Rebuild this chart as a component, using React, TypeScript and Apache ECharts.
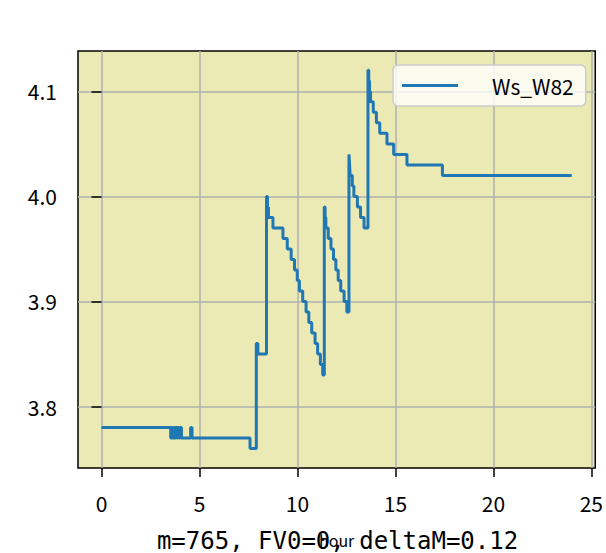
import React, { useEffect, useRef } from "react";
import * as echarts from "echarts";

const seriesName = "Ws_W82";
const hours = [
  0, 3.53, 3.57, 3.62, 3.67, 3.72, 3.78, 3.84, 3.9, 3.96, 4.02, 4.08, 4.55, 4.62,
  7.58, 7.9, 7.98, 8.42, 8.47, 8.52, 8.75, 9.26, 9.48, 9.68, 9.85, 9.99, 10.1,
  10.27, 10.44, 10.58, 10.73, 10.9, 11.03, 11.17, 11.29, 11.37, 11.41, 11.45,
  11.57, 11.71, 11.84, 11.96, 12.08, 12.21, 12.38, 12.52, 12.63, 12.66, 12.69,
  12.8, 12.88, 13.06, 13.22, 13.4, 13.6, 13.64, 13.68, 13.73, 13.87, 14.03, 14.2,
  14.57, 14.91, 15.59, 17.4, 24,
];
const values = [
  3.78, 3.77, 3.78, 3.77, 3.78, 3.77, 3.78, 3.77, 3.78, 3.77, 3.78, 3.77, 3.78, 3.77,
  3.76, 3.86, 3.85, 4.0, 3.99, 3.98, 3.97, 3.96, 3.95, 3.94, 3.93, 3.92, 3.91,
  3.9, 3.89, 3.88, 3.87, 3.86, 3.85, 3.84, 3.83, 3.99, 3.98, 3.97,
  3.96, 3.95, 3.94, 3.93, 3.92, 3.91, 3.9, 3.89, 4.04, 4.03, 4.02,
  4.01, 4.0, 3.99, 3.98, 3.97, 4.12, 4.11, 4.1, 4.09, 4.08, 4.07, 4.06,
  4.05, 4.04, 4.03, 4.02, 4.02,
];
const xTicks = [0, 5, 10, 15, 20, 25];
const yTicks = [3.8, 3.9, 4.0, 4.1];
const titleText = "m=765, FV0=0, deltaM=0.12";
const xName = "hour";

const FONT = "'Noto Sans CJK SC', 'DejaVu Sans', sans-serif";
const MONO = "'DejaVu Sans Mono', 'Liberation Mono', monospace";

export default function App() {
  const ref = useRef<HTMLDivElement>(null);
  useEffect(() => {
    if (!ref.current) return;
    const chart = echarts.init(ref.current, null, { renderer: "svg" });
    const data = hours.map((h, i) => [h, values[i]]);
    chart.setOption({
      animation: false,
      backgroundColor: "#ffffff",
      textStyle: { fontFamily: FONT },
      grid: {
        left: 78,
        right: 9,
        top: 51,
        bottom: 81,
        show: true,
        backgroundColor: "#EBEAB5",
        borderColor: "#000000",
        borderWidth: 1.5,
      },
      legend: {
        show: true,
        left: 393,
        top: 65,
        orient: "horizontal",
        padding: [10, 12, 10, 9],
        itemWidth: 56,
        itemHeight: 14,
        backgroundColor: "rgba(255,255,255,0.8)",
        borderColor: "#cccccc",
        borderWidth: 1.5,
        borderRadius: 5,
        textStyle: {
          fontFamily: FONT,
          fontSize: 21,
          color: "#000000",
          padding: [0, 0, 0, 29],
        },
        data: [{ name: seriesName, icon: "path://M0,0L56,0L56,3L0,3Z" }],
      },
      xAxis: {
        type: "value",
        min: -1.2,
        max: 25.2,
        name: xName,
        nameLocation: "middle",
        nameGap: 64,
        nameTextStyle: { fontFamily: FONT, fontSize: 16, color: "#000" },
        axisLine: { show: false },
        axisTick: {
          show: true,
          customValues: xTicks,
          length: 9,
          lineStyle: { color: "#000", width: 1.5 },
        },
        axisLabel: {
          customValues: xTicks,
          margin: 24,
          fontFamily: FONT,
          fontSize: 21,
          color: "#000",
        },
        splitLine: {
          show: true,
          lineStyle: { color: "#b0b0b0", width: 1.5 },
        },
      },
      yAxis: {
        type: "value",
        min: 3.7415,
        max: 4.1384,
        axisLine: { show: false },
        axisTick: {
          show: true,
          customValues: yTicks,
          length: 10,
          lineStyle: { color: "#000", width: 1.5 },
        },
        axisLabel: {
          customValues: yTicks,
          margin: 21,
          fontFamily: FONT,
          fontSize: 21,
          color: "#000",
          formatter: (v: number) => v.toFixed(1),
        },
        splitLine: {
          show: true,
          lineStyle: { color: "#b0b0b0", width: 1.5 },
        },
      },
      graphic: [
        {
          type: "text",
          x: 337.5,
          y: 540.5,
          z: 100,
          style: {
            text: titleText,
            fontFamily: MONO,
            fontSize: 24,
            fill: "#000",
            textAlign: "center",
            textVerticalAlign: "middle",
          },
        },
      ],
      series: [
        {
          name: seriesName,
          type: "line",
          step: "end",
          data,
          symbol: "none",
          showSymbol: false,
          lineStyle: { color: "#1f77b4", width: 3 },
          itemStyle: { color: "#1f77b4" },
          z: 3,
        },
      ],
    });
    return () => chart.dispose();
  }, []);
  return (
    <div
      ref={ref}
      style={{ position: "absolute", left: 0, top: 0, width: 606, height: 553 }}
    />
  );
}
